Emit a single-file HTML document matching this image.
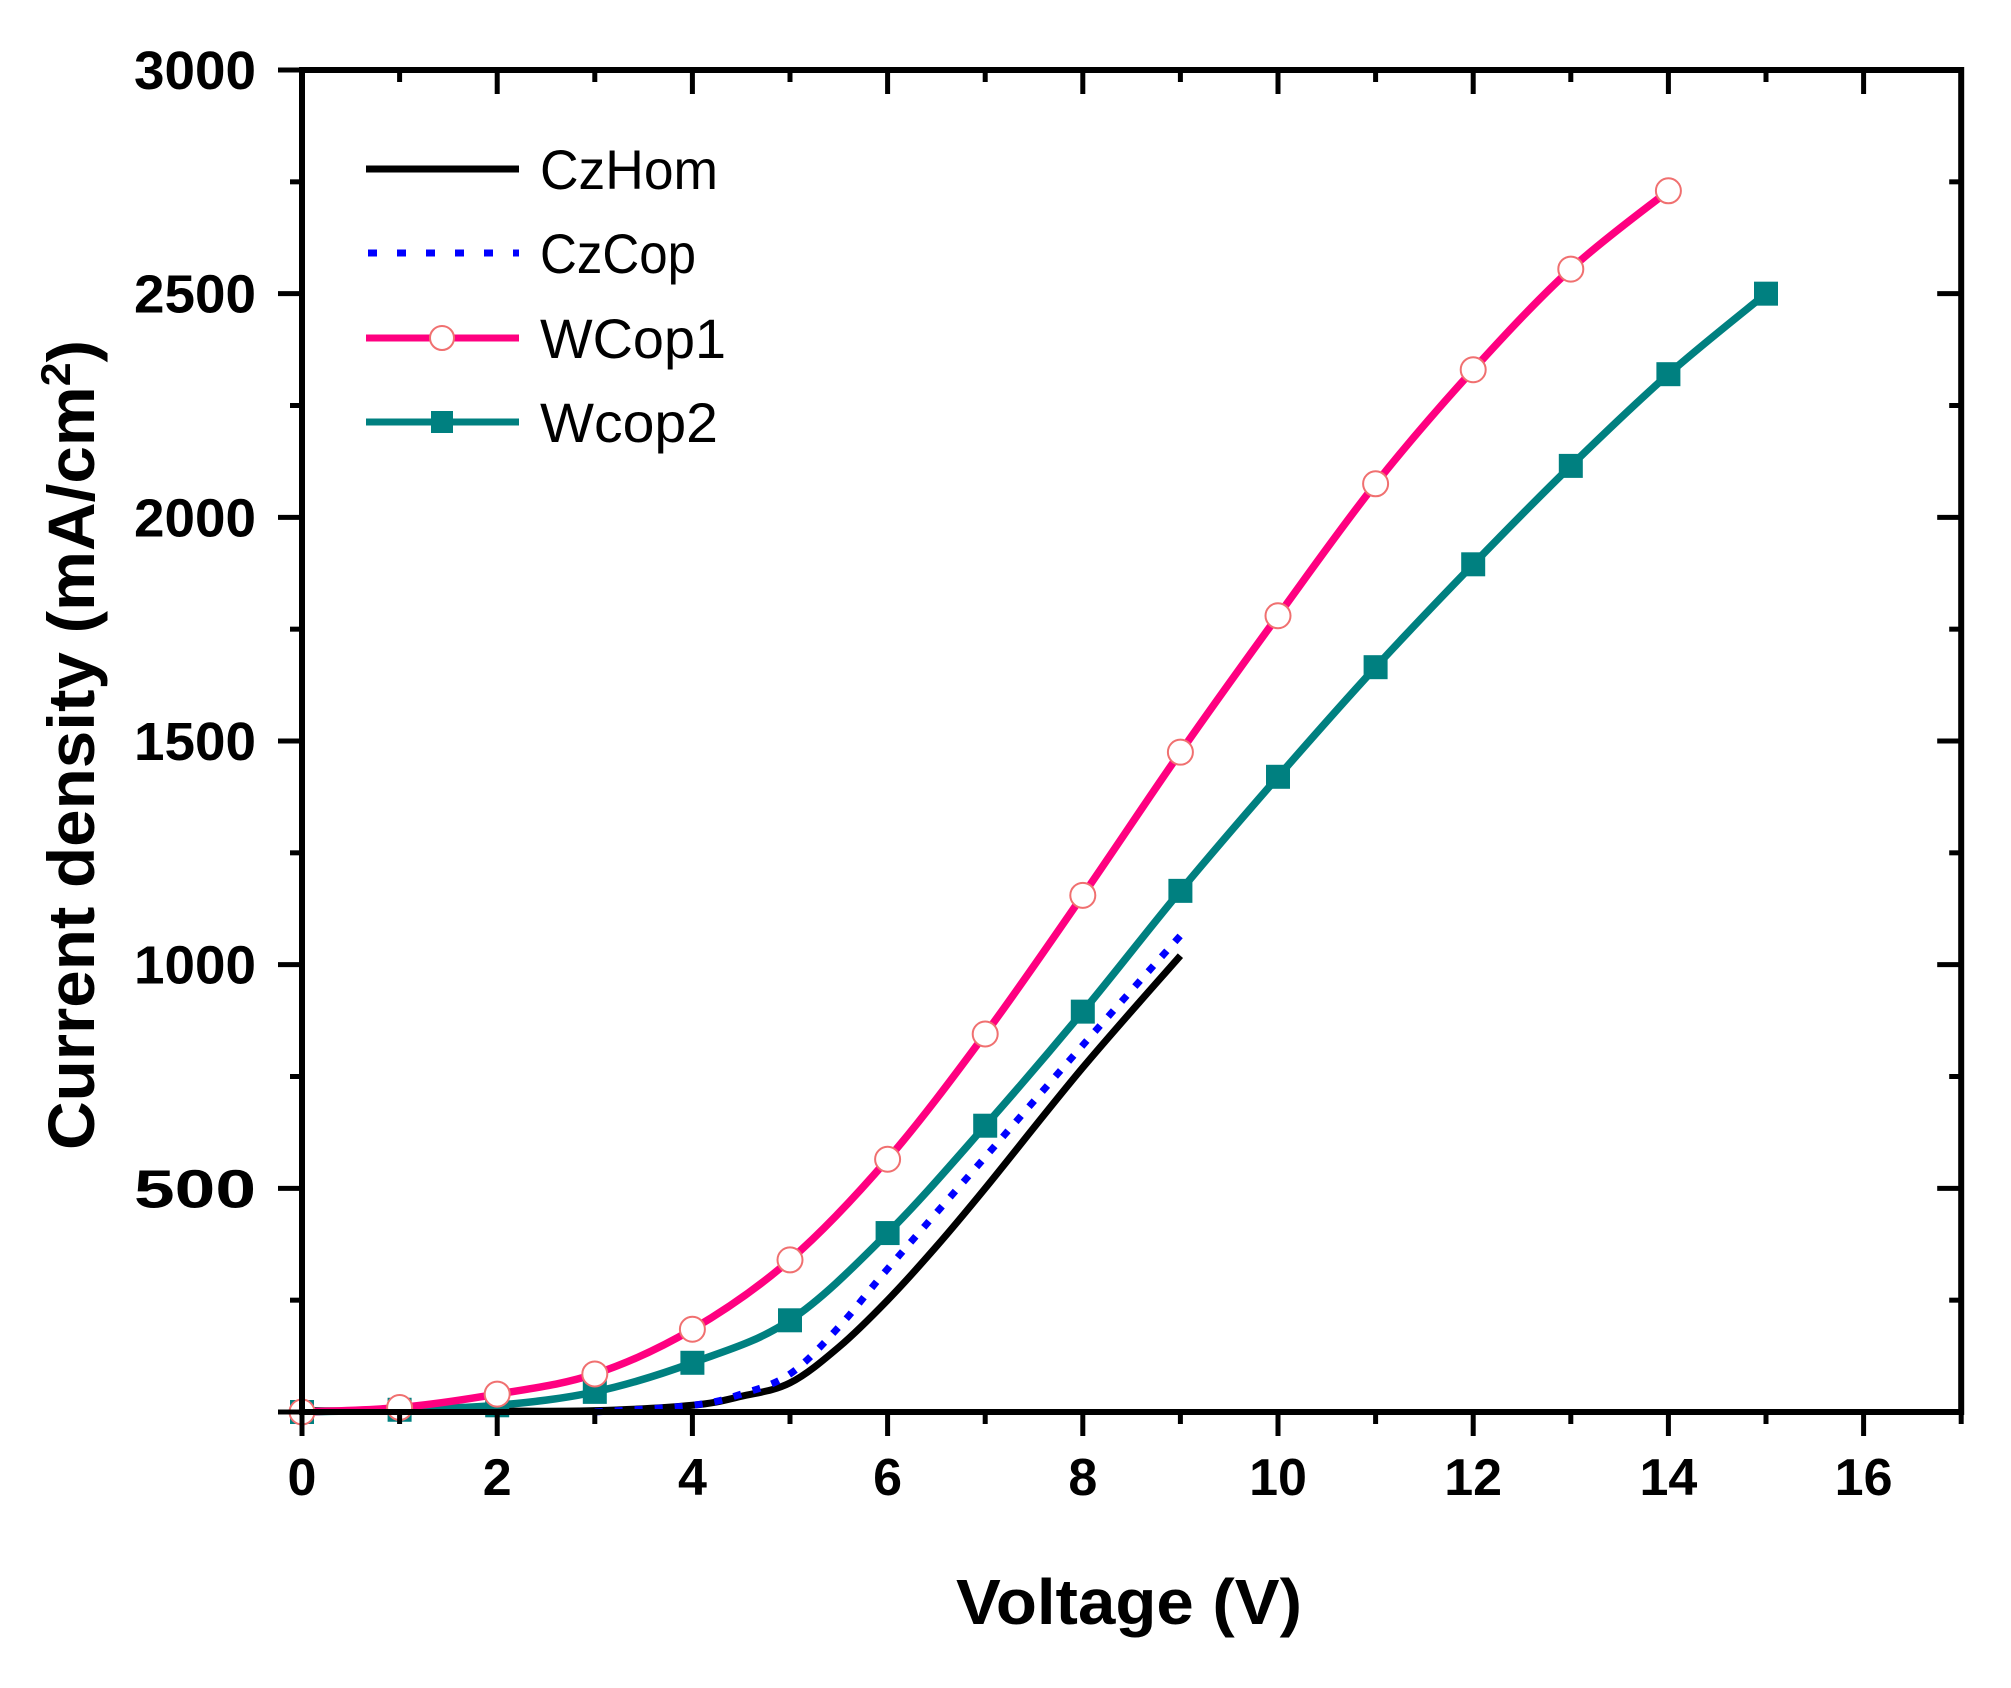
<!DOCTYPE html>
<html><head><meta charset="utf-8"><style>
html,body{margin:0;padding:0;background:#fff;}
svg{display:block;}
</style></head><body>
<svg id="s" width="2011" height="1688" xmlns="http://www.w3.org/2000/svg" font-family="Liberation Sans, sans-serif"></svg>
<script>
const s=document.getElementById('s');
const X0=302,XS=97.6,Y0=1412,YS=(1412-70)/3000;
const px=v=>X0+v*XS, py=v=>Y0-v*YS;
let h='';
function path(pts){
  const P=pts.map(p=>[px(p[0]),py(p[1])]);
  let d='M'+P[0][0]+','+P[0][1];
  for(let i=0;i<P.length-1;i++){
    const p0=P[Math.max(0,i-1)],p1=P[i],p2=P[i+1],p3=P[Math.min(P.length-1,i+2)];
    const c1=[p1[0]+(p2[0]-p0[0])/6,p1[1]+(p2[1]-p0[1])/6];
    const c2=[p2[0]-(p3[0]-p1[0])/6,p2[1]-(p3[1]-p1[1])/6];
    d+=' C'+c1+' '+c2+' '+p2;
  }
  return d;
}
const w1=[[0,0],[1,10],[2,40],[3,85],[4,185],[5,340],[6,565],[7,845],[8,1155],[9,1475],[10,1780],[11,2075],[12,2330],[13,2555],[14,2730]];
const w2=[[0,0],[1,5],[2,15],[3,45],[4,110],[5,205],[6,400],[7,640],[8,895],[9,1165],[10,1420],[11,1665],[12,1895],[13,2115],[14,2320],[15,2500]];
const cz=[[0,3],[1,2],[2,2],[3,3],[4,15],[4.5,35],[5,65],[5.5,145],[6,250],[6.5,370],[7,500],[8,770],[9,1020]];
const cc=[[3,0],[4,15],[4.5,40],[5,85],[5.5,190],[6,320],[7,570],[8,820],[9,1065]];
h+=`<path d="${path(cz)}" fill="none" stroke="#000" stroke-width="7"/>`;
h+=`<path d="${path(cc)}" fill="none" stroke="#0000ff" stroke-width="7" stroke-dasharray="8,12"/>`;
h+=`<path d="${path(w2)}" fill="none" stroke="#008080" stroke-width="7.5"/>`;
h+=`<path d="${path(w1)}" fill="none" stroke="#ff0080" stroke-width="7.5"/>`;
w2.forEach(p=>h+=`<rect x="${px(p[0])-12}" y="${py(p[1])-12}" width="24" height="24" fill="#008080"/>`);
w1.forEach(p=>h+=`<circle cx="${px(p[0])}" cy="${py(p[1])}" r="12.5" fill="#fff" stroke="#f07070" stroke-width="2"/>`);
const L=X0,R=px(17),T=py(3000),B=Y0;
h+=`<rect x="${L}" y="${T}" width="${R-L}" height="${B-T}" fill="none" stroke="#000" stroke-width="6"/>`;
for(let v=0;v<=17;v++){const x=px(v),maj=v%2==0,len=maj?24:12;
 h+=`<line x1="${x}" y1="${B}" x2="${x}" y2="${B+len}" stroke="#000" stroke-width="5"/>`;
 h+=`<line x1="${x}" y1="${T}" x2="${x}" y2="${T+len}" stroke="#000" stroke-width="5"/>`;
 if(maj) h+=`<text x="${x}" y="1495" font-size="52" font-weight="bold" text-anchor="middle">${v}</text>`;}
for(let v=0;v<=3000;v+=250){const y=py(v),maj=v%500==0,len=maj?24:12;
 h+=`<line x1="${L}" y1="${y}" x2="${L-len}" y2="${y}" stroke="#000" stroke-width="5"/>`;
 h+=`<line x1="${R}" y1="${y}" x2="${R-len}" y2="${y}" stroke="#000" stroke-width="5"/>`;
 if(maj&&v>0) h+=`<text x="256" y="${y+19}" font-size="54" font-weight="bold" text-anchor="end" textLength="122" lengthAdjust="spacingAndGlyphs">${v}</text>`;}
h+=`<text x="1129" y="1624" font-size="64" font-weight="bold" text-anchor="middle" textLength="346" lengthAdjust="spacingAndGlyphs">Voltage (V)</text>`;
h+=`<text transform="translate(94,745) rotate(-90)" font-size="66" font-weight="bold" text-anchor="middle" textLength="810" lengthAdjust="spacingAndGlyphs">Current density (mA/cm<tspan font-size="42" dy="-24">2</tspan><tspan dy="24">)</tspan></text>`;
const rows=[[169,'CzHom',178],[253,'CzCop',156],[338,'WCop1',186],[422,'Wcop2',178]];
h+=`<line x1="366" y1="169" x2="519" y2="169" stroke="#000" stroke-width="7"/>`;
h+=`<line x1="368" y1="253" x2="519" y2="253" stroke="#0000ff" stroke-width="7" stroke-dasharray="9,20"/>`;
h+=`<line x1="366" y1="338" x2="519" y2="338" stroke="#ff0080" stroke-width="7"/><circle cx="442" cy="338" r="12" fill="#fff" stroke="#f07070" stroke-width="2"/>`;
h+=`<line x1="366" y1="422" x2="519" y2="422" stroke="#008080" stroke-width="7"/><rect x="431" y="411" width="22" height="22" fill="#008080"/>`;
rows.forEach(r=>h+=`<text x="540" y="${r[0]+20}" font-size="56" textLength="${r[2]}" lengthAdjust="spacingAndGlyphs">${r[1]}</text>`);
s.innerHTML=h;
</script>
</body></html>
